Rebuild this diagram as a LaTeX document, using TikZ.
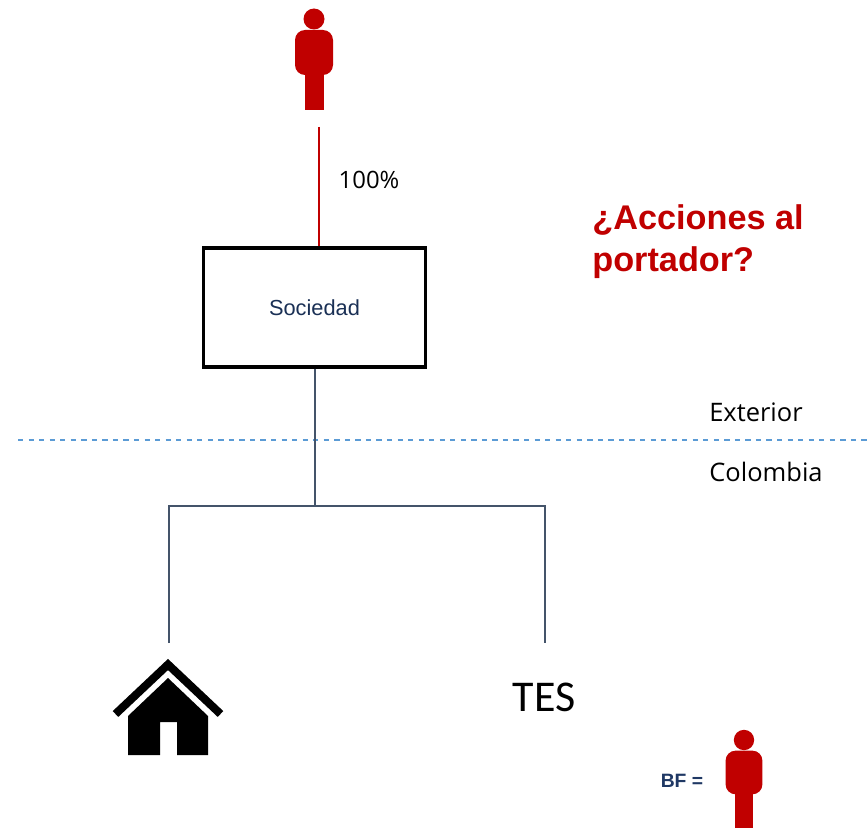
\documentclass[tikz,border=0pt]{standalone}
\usepackage{fontspec}
\setmainfont{Liberation Sans}
\newfontfamily\labelfont{Open Sans}
\newfontfamily\tesfont{Carlito}
\usetikzlibrary{positioning}
\definecolor{bfred}{HTML}{C00000}
\definecolor{slate}{HTML}{44546A}
\definecolor{inkblue}{HTML}{1F3864}
\definecolor{cutblue}{HTML}{5B9BD5}
\tikzset{
  person/.pic={
    \fill[bfred] (0,0) circle (10.5);
    \fill[bfred,rounded corners=0.2cm] (-19,11) rectangle (19,56);
    \fill[bfred] (-9.5,50) rectangle (9.5,91);
  },
  branch/.style={slate,line width=0.9pt},
  zonelabel/.style={font=\labelfont\fontsize{14.5}{17}\selectfont,black}
}
\begin{document}
\begin{tikzpicture}[x=0.02cm,y=-0.02cm]
  \useasboundingbox (0,0) rectangle (867,828);

  % Owner and company
  \pic at (314,19) {person};
  \node[draw,line width=1.8pt,minimum width=4.44cm,minimum height=2.38cm,text=inkblue!85!black,font=\fontsize{12.4}{14}\selectfont] (sociedad) at (314.5,307.5) {\raisebox{-0.5pt}{Sociedad}};
  \coordinate (ownerend) at (319,127);
  \draw[bfred,line width=0.6pt] (ownerend) -- (ownerend |- sociedad.north);
  \node[font=\labelfont\fontsize{13.6}{16}\selectfont] (share) at (369,180) {100\%};

  % Question
  \node[align=left,anchor=west,inner sep=0pt,text=bfred,font=\bfseries\fontsize{19.5}{24}\selectfont] (question) at (592,241.5) {¿Acciones al\\portador?};

  % Border
  \coordinate (cutleft) at (18,440);
  \coordinate (cutright) at (867,440);
  \draw[cutblue,dashed,line width=0.7pt] (cutleft) -- (cutright);
  \node[zonelabel] (exterior) at (756,412) {Exterior};
  \node[zonelabel] (colombia) at (766,472) {Colombia};

  % Holdings
  \coordinate (split) at (315,506);
  \coordinate (houseend) at (169,643);
  \node[font=\tesfont\fontsize{25}{30}\selectfont] (tes) at (544,697) {TES};
  \coordinate (tesend) at (545,643);
  \draw[branch] (split |- sociedad.south) -- (split);
  \draw[branch] (houseend) -- (houseend |- split) -- (tesend |- split) -- (tesend);

  % House
  \draw[line width=4.6pt,miter limit=10] (115.5,714) -- (168,664.5) -- (220.5,714);
  \fill (168,678) -- (208,716) -- (208,755) -- (177,755) -- (177,722) -- (160,722) -- (160,755) -- (128,755) -- (128,716) -- cycle;

  % Beneficial owner
  \node[text=inkblue,font=\bfseries\fontsize{11}{13}\selectfont] (bf) at (682,781) {BF =};
  \pic[scale=0.97] at (744,740) {person};
\end{tikzpicture}
\end{document}
